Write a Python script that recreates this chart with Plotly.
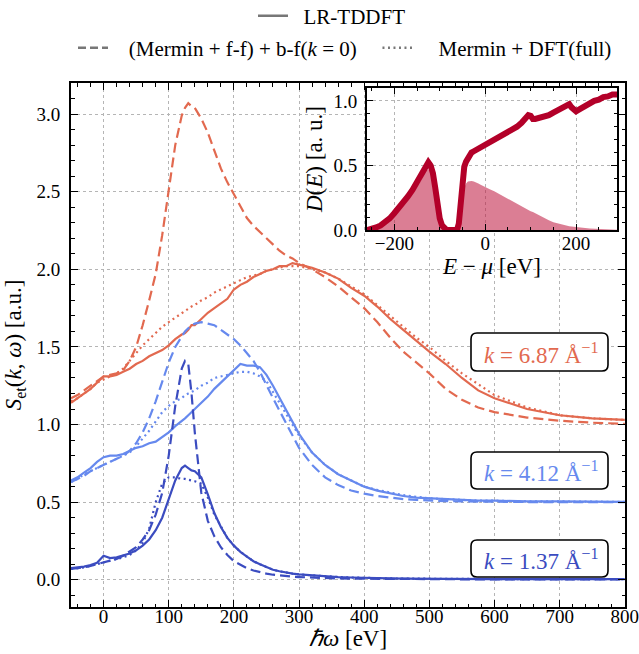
import plotly.graph_objects as go

# ---------------- data ----------------
E = [-50, -40, -30, -20, -10, 0, 10, 20, 30, 40, 50, 60, 70, 80, 90, 100, 110, 120, 125, 130,
     135, 140, 150, 160, 170, 180, 190, 200, 210, 220, 230, 240, 250, 260, 270, 280, 290, 300,
     320, 340, 360, 380, 400, 420, 440, 460, 480, 500, 525, 550, 575, 600, 650, 700, 750, 800]

# k = 6.87 1/A  (offset +1.0)
k687_tddft = [1.14, 1.17, 1.20, 1.23, 1.27, 1.31, 1.31, 1.32, 1.34, 1.36, 1.39, 1.41, 1.44, 1.46, 1.48, 1.51, 1.55, 1.58, 1.59, 1.61,
              1.64, 1.64, 1.68, 1.72, 1.75, 1.78, 1.81, 1.87, 1.90, 1.92, 1.95, 1.97, 1.99, 2.00, 2.02, 2.02, 2.04, 2.03,
              2.01, 1.98, 1.94, 1.88, 1.83, 1.76, 1.68, 1.61, 1.54, 1.47, 1.39, 1.30, 1.22, 1.17, 1.10, 1.06, 1.04, 1.03]
k687_bf0 = [1.17, 1.19, 1.22, 1.25, 1.28, 1.31, 1.32, 1.33, 1.35, 1.41, 1.50, 1.64, 1.80, 1.97, 2.22, 2.50, 2.80, 2.99, 3.04, 3.07,
            3.05, 3.04, 2.97, 2.88, 2.76, 2.65, 2.56, 2.48, 2.40, 2.33, 2.28, 2.24, 2.20, 2.16, 2.12, 2.09, 2.07, 2.04,
            2.00, 1.95, 1.89, 1.82, 1.75, 1.66, 1.56, 1.47, 1.40, 1.33, 1.23, 1.16, 1.11, 1.08, 1.045, 1.025, 1.012, 1.005]
k687_dft = [1.15, 1.17, 1.20, 1.23, 1.27, 1.29, 1.31, 1.33, 1.36, 1.41, 1.46, 1.51, 1.55, 1.59, 1.63, 1.66, 1.69, 1.72, 1.73, 1.75,
            1.76, 1.77, 1.80, 1.82, 1.85, 1.87, 1.89, 1.91, 1.93, 1.95, 1.96, 1.97, 1.99, 2.00, 2.01, 2.02, 2.02, 2.02,
            2.00, 1.98, 1.94, 1.89, 1.84, 1.77, 1.70, 1.63, 1.56, 1.50, 1.41, 1.33, 1.26, 1.19, 1.11, 1.06, 1.04, 1.03]

# k = 4.12 1/A  (offset +0.5)
k412_tddft = [0.64, 0.66, 0.69, 0.72, 0.76, 0.79, 0.80, 0.80, 0.81, 0.83, 0.85, 0.86, 0.88, 0.89, 0.92, 0.95, 0.99, 1.02, 1.04, 1.06,
              1.08, 1.10, 1.14, 1.18, 1.23, 1.27, 1.31, 1.35, 1.39, 1.38, 1.38, 1.37, 1.32, 1.25, 1.17, 1.10, 1.02, 0.94,
              0.82, 0.74, 0.68, 0.64, 0.60, 0.575, 0.555, 0.54, 0.53, 0.525, 0.52, 0.515, 0.51, 0.51, 0.505, 0.505, 0.503, 0.502]
k412_bf0 = [0.63, 0.65, 0.67, 0.70, 0.72, 0.745, 0.76, 0.78, 0.80, 0.83, 0.88, 0.95, 1.04, 1.15, 1.28, 1.40, 1.50, 1.57, 1.60, 1.62,
            1.64, 1.65, 1.66, 1.65, 1.64, 1.61, 1.58, 1.55, 1.51, 1.46, 1.41, 1.34, 1.25, 1.17, 1.09, 1.01, 0.92, 0.85,
            0.74, 0.66, 0.61, 0.575, 0.555, 0.54, 0.53, 0.52, 0.515, 0.51, 0.507, 0.505, 0.503, 0.502, 0.501, 0.50, 0.50, 0.50]
k412_dft = [0.63, 0.65, 0.68, 0.70, 0.72, 0.745, 0.76, 0.78, 0.80, 0.82, 0.86, 0.91, 0.96, 1.02, 1.08, 1.12, 1.15, 1.17, 1.19, 1.20,
            1.21, 1.22, 1.25, 1.27, 1.30, 1.31, 1.32, 1.33, 1.34, 1.34, 1.33, 1.31, 1.28, 1.21, 1.14, 1.07, 1.00, 0.93,
            0.82, 0.74, 0.68, 0.64, 0.60, 0.58, 0.56, 0.545, 0.535, 0.525, 0.52, 0.515, 0.51, 0.51, 0.505, 0.505, 0.503, 0.502]

# k = 1.37 1/A  (offset 0)
k137_tddft = [0.075, 0.08, 0.085, 0.095, 0.11, 0.155, 0.14, 0.145, 0.155, 0.17, 0.19, 0.22, 0.26, 0.32, 0.40, 0.52, 0.64, 0.72, 0.735, 0.72,
              0.705, 0.70, 0.66, 0.55, 0.43, 0.34, 0.27, 0.22, 0.18, 0.15, 0.12, 0.10, 0.08, 0.065, 0.055, 0.045, 0.04, 0.035,
              0.028, 0.022, 0.018, 0.015, 0.012, 0.010, 0.009, 0.008, 0.007, 0.007, 0.006, 0.006, 0.005, 0.005, 0.005, 0.004, 0.004, 0.004]
k137_bf0 = [0.07, 0.075, 0.08, 0.09, 0.10, 0.11, 0.12, 0.135, 0.155, 0.18, 0.21, 0.26, 0.32, 0.42, 0.56, 0.80, 1.12, 1.36, 1.41, 1.39,
            1.20, 0.95, 0.56, 0.38, 0.28, 0.21, 0.16, 0.12, 0.095, 0.075, 0.06, 0.048, 0.04, 0.033, 0.028, 0.024, 0.02, 0.018,
            0.014, 0.011, 0.009, 0.008, 0.007, 0.006, 0.005, 0.005, 0.004, 0.004, 0.003, 0.003, 0.003, 0.002, 0.002, 0.002, 0.002, 0.002]
k137_dft = [0.07, 0.075, 0.08, 0.09, 0.10, 0.11, 0.12, 0.13, 0.145, 0.16, 0.19, 0.24, 0.33, 0.50, 0.62, 0.66, 0.66, 0.65, 0.65, 0.645,
            0.64, 0.635, 0.62, 0.53, 0.42, 0.34, 0.27, 0.22, 0.18, 0.15, 0.12, 0.10, 0.08, 0.065, 0.055, 0.045, 0.04, 0.035,
            0.028, 0.022, 0.018, 0.015, 0.012, 0.010, 0.009, 0.008, 0.007, 0.007, 0.006, 0.006, 0.005, 0.005, 0.005, 0.004, 0.004, 0.004]

k_labels = ["<i>k</i> = 6.87 Å<sup>−1</sup>", "<i>k</i> = 4.12 Å<sup>−1</sup>", "<i>k</i> = 1.37 Å<sup>−1</sup>"]
legend_names = ["LR-TDDFT", "(Mermin + f-f) + b-f(<i>k</i> = 0)", "Mermin + DFT(full)"]
x_title = "<i>ℏω</i> [eV]"

# inset: density of states
dos_E = [-260, -250, -240, -230, -220, -210, -200, -190, -180, -170, -160, -150, -140, -135, -130, -125, -120, -115,
         -110, -105, -100, -95, -90, -85, -80, -70, -62, -58, -55, -52, -49, -46, -42, -38, -34, -30, -25, -20,
         -15, -10, -5, 0, 10, 20, 30, 40, 50, 60, 70, 80, 90, 95, 100, 105, 110, 120, 130, 140, 150, 160, 170,
         180, 185, 190, 200, 210, 220, 230, 240, 250, 260, 270, 280, 290]
dos_D = [0.0, 0.005, 0.02, 0.035, 0.06, 0.09, 0.13, 0.17, 0.21, 0.26, 0.31, 0.37, 0.44, 0.48, 0.51, 0.525, 0.50, 0.44,
         0.33, 0.20, 0.09, 0.035, 0.01, 0.0, 0.0, 0.0, 0.0, 0.05, 0.18, 0.33, 0.43, 0.49, 0.53, 0.56, 0.58, 0.60, 0.61, 0.62,
         0.63, 0.645, 0.65, 0.665, 0.68, 0.70, 0.715, 0.735, 0.76, 0.785, 0.80, 0.83, 0.86, 0.89, 0.885, 0.86, 0.86, 0.87, 0.875,
         0.89, 0.91, 0.93, 0.95, 0.97, 0.975, 0.95, 0.92, 0.94, 0.96, 0.99, 1.0, 1.01, 1.03, 1.035, 1.05, 1.05]
dos_occ = [0.0, 0.005, 0.018, 0.03, 0.055, 0.08, 0.115, 0.15, 0.19, 0.23, 0.28, 0.33, 0.39, 0.43, 0.46, 0.47, 0.45, 0.40,
           0.30, 0.18, 0.08, 0.03, 0.008, 0.0, 0.0, 0.0, 0.0, 0.03, 0.12, 0.22, 0.29, 0.33, 0.36, 0.375, 0.38, 0.38, 0.375, 0.37,
           0.36, 0.35, 0.34, 0.33, 0.315, 0.30, 0.28, 0.265, 0.245, 0.22, 0.20, 0.18, 0.165, 0.155, 0.145, 0.14, 0.13, 0.11, 0.09,
           0.075, 0.06, 0.05, 0.04, 0.033, 0.03, 0.028, 0.022, 0.018, 0.015, 0.012, 0.01, 0.008, 0.006, 0.004, 0.003, 0.002]

# ---------------- style ----------------
RED = "#e2694f"
LBLUE = "#6689ee"
DBLUE = "#3b4cc0"
DOS_LINE = "#b30029"
DOS_FILL = "rgba(190,20,60,0.55)"
FONT = "Liberation Serif"
DASH = "10px,5px"
DOT = "2px,3.5px"
LW = 2.2
NB = "\u00a0"

fig = go.Figure()
series = [(k687_tddft, k687_bf0, k687_dft, RED),
          (k412_tddft, k412_bf0, k412_dft, LBLUE),
          (k137_tddft, k137_bf0, k137_dft, DBLUE)]
for ys, yd, yo, col in series:
    fig.add_trace(go.Scatter(x=E, y=yo, mode="lines", line=dict(color=col, width=LW, dash=DOT), showlegend=False))
    fig.add_trace(go.Scatter(x=E, y=yd, mode="lines", line=dict(color=col, width=LW, dash=DASH), showlegend=False))
    fig.add_trace(go.Scatter(x=E, y=ys, mode="lines", line=dict(color=col, width=LW), showlegend=False))

# legend entries
fig.add_trace(go.Scatter(x=[None], y=[None], mode="lines", name=NB * 2 + legend_names[0],
                         line=dict(color="#777777", width=2.5), legend="legend"))
fig.add_trace(go.Scatter(x=[None], y=[None], mode="lines", name=NB * 3 + legend_names[1] + NB * 3,
                         line=dict(color="#777777", width=2.5, dash="8px,4px"), legend="legend2"))
fig.add_trace(go.Scatter(x=[None], y=[None], mode="lines", name=NB * 4 + legend_names[2],
                         line=dict(color="#777777", width=2.5, dash=DOT), legend="legend2"))

# inset traces
fig.add_trace(go.Scatter(x=dos_E, y=dos_occ, mode="lines", fill="tozeroy", fillcolor=DOS_FILL,
                         line=dict(width=0, color=DOS_FILL), xaxis="x2", yaxis="y2", showlegend=False))
fig.add_trace(go.Scatter(x=dos_E, y=dos_D, mode="lines", line=dict(color=DOS_LINE, width=6),
                         xaxis="x2", yaxis="y2", showlegend=False))

# ---------------- layout ----------------
W, H = 639, 654
ML, MR, MT, MB = 71, 14, 83, 47
PW, PH = W - ML - MR, H - MT - MB


def px2paper(px, py):
    return (px - ML) / PW, (H - MB - py) / PH


def rounded_box(x0, y0, x1, y1, r=6):
    def P(x, y):
        a, b = px2paper(x, y)
        return f"{a:.5f},{b:.5f}"
    path = (f"M {P(x0 + r, y0)} L {P(x1 - r, y0)} Q {P(x1, y0)} {P(x1, y0 + r)} "
            f"L {P(x1, y1 - r)} Q {P(x1, y1)} {P(x1 - r, y1)} "
            f"L {P(x0 + r, y1)} Q {P(x0, y1)} {P(x0, y1 - r)} "
            f"L {P(x0, y0 + r)} Q {P(x0, y0)} {P(x0 + r, y0)} Z")
    return dict(type="path", xref="paper", yref="paper", path=path,
                line=dict(color="black", width=1.6), fillcolor="white", layer="above")


boxes = [(471, 333, 608, 371), (471, 452, 608, 489), (471, 540, 608, 577)]
cols = [RED, LBLUE, DBLUE]
shapes = []
annotations = []
for (x0, y0, x1, y1), lab, col in zip(boxes, k_labels, cols):
    shapes.append(rounded_box(x0, y0, x1, y1))
    cx, cy = px2paper((x0 + x1) / 2 + 1, (y0 + y1) / 2 + 1)
    annotations.append(dict(x=cx, y=cy, xref="paper", yref="paper", text=lab, showarrow=False,
                            font=dict(family=FONT, size=23, color=col), xanchor="center", yanchor="middle"))

tickfont = dict(family=FONT, size=19, color="black")
titlefont = dict(family=FONT, size=23, color="black")

# main x-axis title
tx, ty = px2paper(348, 638)
annotations.append(dict(x=tx, y=ty, xref="paper", yref="paper", text=x_title, showarrow=False,
                        font=titlefont, xanchor="center", yanchor="middle"))

# inset placement and white background (hides main grid)
ix0, iy0 = px2paper(367, 230)
ix1, iy1 = px2paper(617, 88)
shapes.append(dict(type="rect", xref="x2 domain", yref="y2 domain", x0=0, x1=1, y0=0, y1=1,
                   fillcolor="white", line=dict(width=0), layer="below"))

common = dict(showline=True, linecolor="black", mirror="ticks", ticks="inside",
              tickcolor="black", tickfont=tickfont, zeroline=False, automargin=True,
              ticklabeloverflow="allow",
              showgrid=True, gridcolor="#b5b5b5", griddash="dot", gridwidth=1)

fig.update_layout(
    width=W, height=H, margin=dict(l=ML, r=MR, t=MT, b=MB, autoexpand=False),
    paper_bgcolor="white", plot_bgcolor="white",
    font=dict(family=FONT, size=19, color="black"),
    xaxis=dict(range=[-50, 800.3], tick0=0, dtick=100, ticklen=7, tickwidth=1.2, linewidth=2,
               ticklabelstandoff=-9,
               minor=dict(ticks="inside", dtick=20, ticklen=3.5, tickcolor="black", showgrid=False),
               **common),
    yaxis=dict(range=[-0.175, 3.2], tick0=0, dtick=0.5, tickformat=".1f", ticklen=7, tickwidth=1.2, linewidth=2,
               ticklabelstandoff=5,
               minor=dict(ticks="inside", dtick=0.1, ticklen=3.5, tickcolor="black", showgrid=False),
               title=dict(text="<i>S</i><sub>et</sub>(<i>k</i>, <i>ω</i>) [a.u.]", font=titlefont,
                          standoff=8), **common),
    xaxis2=dict(domain=[ix0, ix1], anchor="y2", range=[-260, 290], tick0=0, dtick=200, ticklen=6, tickwidth=1.2,
                linewidth=2, ticklabelstandoff=-5,
                minor=dict(ticks="inside", dtick=50, ticklen=3, tickcolor="black", showgrid=False),
                title=dict(text="<i>E</i> − <i>μ</i> [eV]", font=titlefont, standoff=2), **common),
    yaxis2=dict(domain=[iy0, iy1], anchor="x2", range=[0, 1.1], tick0=0, dtick=0.5, tickformat=".1f", ticklen=6,
                tickwidth=1.2, linewidth=2, ticklabelstandoff=4,
                minor=dict(ticks="inside", dtick=0.1, ticklen=3, tickcolor="black", showgrid=False),
                title=dict(text="<i>D</i>(<i>E</i>) [a. u.]", font=titlefont, standoff=4), **common),
    legend=dict(x=px2paper(332, 0)[0], y=px2paper(0, 16)[1], xanchor="center", yanchor="middle", orientation="h",
                font=dict(family=FONT, size=21), bgcolor="rgba(0,0,0,0)", itemwidth=30),
    legend2=dict(x=px2paper(345, 0)[0], y=px2paper(0, 48)[1], xanchor="center", yanchor="middle", orientation="h",
                 font=dict(family=FONT, size=21), bgcolor="rgba(0,0,0,0)", itemwidth=30),
    shapes=shapes, annotations=annotations,
)

fig.write_html("out.html")
